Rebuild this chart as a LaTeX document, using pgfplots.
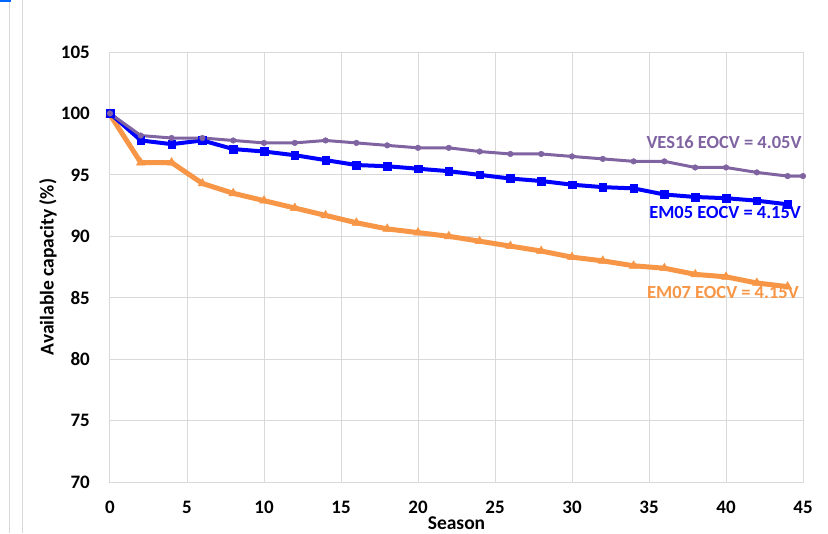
\documentclass[border=0pt]{standalone}
\usepackage{fontspec}
\setmainfont{Carlito}
\usepackage{pgfplots}
\pgfplotsset{compat=1.18}
\usetikzlibrary{calc}
\definecolor{Grid}{HTML}{D9D9D9}
\definecolor{Ves}{HTML}{8064A2}
\definecolor{Em05}{HTML}{0000FF}
\definecolor{Em07}{HTML}{F79646}

\pgfplotstableread{
x y
0 100.0
2 98.2
4 98.0
6 98.0
8 97.8
10 97.6
12 97.6
14 97.8
16 97.6
18 97.4
20 97.2
22 97.2
24 96.9
26 96.7
28 96.7
30 96.5
32 96.3
34 96.1
36 96.1
38 95.6
40 95.6
42 95.2
44 94.9
45 94.9
}\ves

\pgfplotstableread{
x y
0 100.0
2 97.8
4 97.5
6 97.8
8 97.1
10 96.9
12 96.6
14 96.2
16 95.8
18 95.7
20 95.5
22 95.3
24 95.0
26 94.7
28 94.5
30 94.2
32 94.0
34 93.9
36 93.4
38 93.2
40 93.1
42 92.9
44 92.6
}\emfive

\pgfplotstableread{
x y
0 99.9
2 96.0
4 96.0
6 94.3
8 93.5
10 92.9
12 92.3
14 91.7
16 91.1
18 90.6
20 90.3
22 90.0
24 89.6
26 89.2
28 88.8
30 88.3
32 88.0
34 87.6
36 87.4
38 86.9
40 86.7
42 86.2
44 85.9
}\emseven

\begin{document}
\begin{tikzpicture}
\begin{axis}[
  name=ax,
  scale only axis,
  width=693pt, height=430pt,
  xmin=0, xmax=45, ymin=70, ymax=105,
  xtick={0,5,...,45}, ytick={70,75,...,105},
  grid=major,
  grid style={Grid, line width=1pt},
  axis line style={Grid, line width=1pt},
  major tick length=0pt,
  tick style={draw=none},
  clip=false,
  /pgf/number format/assume math mode=true,
  ticklabel style={font=\fontsize{19}{22}\selectfont\bfseries, inner sep=0pt},
  xticklabel style={yshift=-19pt},
  yticklabel style={xshift=-20pt},
  xlabel={Season},
  ylabel={Available capacity (\%)},
  label style={font=\fontsize{19.5}{22}\selectfont\bfseries},
  xlabel style={at={(axis description cs:0.5,0)}, anchor=base, yshift=-47pt},
  ylabel style={at={(axis description cs:0,0.5)}, anchor=center, yshift=62pt},
]
\addplot[Em07, line width=5pt, mark=triangle*, mark size=5pt, mark options={line width=0.5pt}] table {\emseven};
\addplot[Em05, line width=4pt, mark=square*, mark size=3.8pt, mark options={line width=0.5pt}] table {\emfive};
\addplot[Ves, line width=3pt, mark=*, mark size=2.8pt, mark options={line width=0.5pt}] table {\ves};
\node[Ves, font=\fontsize{18.5}{22}\selectfont\bfseries] at (axis cs:39.87,97.68) {VES16 EOCV = 4.05V};
\node[Em05, font=\fontsize{18.5}{22}\selectfont\bfseries] at (axis cs:39.94,91.9) {EM05 EOCV = 4.15V};
\node[Em07, font=\fontsize{18.5}{22}\selectfont\bfseries] at (axis cs:39.8,85.39) {EM07 EOCV = 4.15V};
\end{axis}
\pgfresetboundingbox
\path[use as bounding box] ($(ax.south west)+(-110pt,-51pt)$) rectangle ($(ax.north east)+(25pt,52pt)$);
\draw[Grid, line width=1pt] ($(ax.south west)+(-100pt,-51pt)$) -- ($(ax.north west)+(-100pt,52pt)$);
\draw[Grid, line width=1pt] ($(ax.south west)+(-87pt,-51pt)$) -- ($(ax.north west)+(-87pt,52pt)$);
\draw[Em05!60!cyan, line width=2.5pt] ($(ax.north west)+(-110pt,51pt)$) -- ($(ax.north west)+(-99pt,51pt)$);
\end{tikzpicture}
\end{document}
